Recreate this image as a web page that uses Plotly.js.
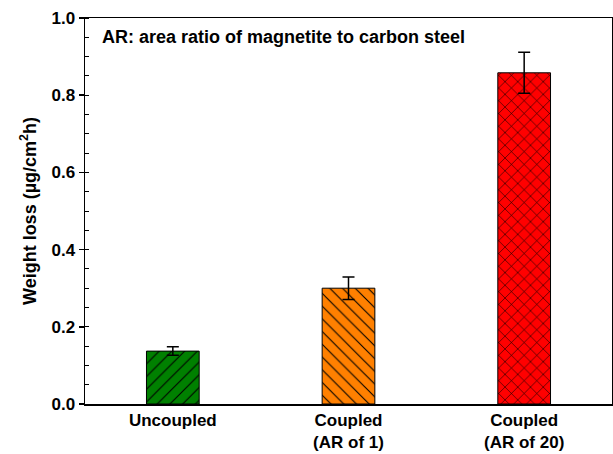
<!DOCTYPE html>
<html>
<head>
<meta charset="utf-8">
<script src="https://cdn.plot.ly/plotly-3.0.1.min.js"></script>
<style>html,body{margin:0;padding:0;background:#fff;}#chart{width:613px;height:454px;}</style>
</head>
<body>
<div id="chart"></div>
<script>
const categories = ["Uncoupled", "Coupled<br>(AR of 1)", "Coupled<br>(AR of 20)"];
const weightLoss = [0.137, 0.300, 0.858];
const errors = [0.011, 0.029, 0.053];
const barColors = ["#008000", "#FF8000", "#FF0000"];
const patterns = ["/", "\\", "x"];
const yTicks = [0.0, 0.2, 0.4, 0.6, 0.8, 1.0];

const fam = "Liberation Sans, Arial, sans-serif";
const boldFont = (s) => ({family: fam, size: s, color: "#000", weight: "bold"});

const traces = categories.map((c, i) => ({
  type: "bar",
  x: [c],
  y: [weightLoss[i]],
  width: 0.3,
  marker: {
    color: barColors[i],
    line: {color: "#000", width: 1},
    pattern: {shape: patterns[i], fgcolor: "#000000", fgopacity: 1, size: 9, solidity: 0.12, fillmode: "overlay"}
  },
  error_y: {type: "data", array: [errors[i]], visible: true, color: "#000", thickness: 1.5, width: 6},
  hoverinfo: "none"
}));

const layout = {
  width: 613, height: 454,
  margin: {l: 85, r: 1, t: 18, b: 50},
  paper_bgcolor: "#fff", plot_bgcolor: "#fff",
  font: {family: fam, size: 18, color: "#000"},
  showlegend: false,
  barmode: "overlay",
  xaxis: {
    type: "category",
    categoryarray: categories, categoryorder: "array",
    range: [-0.5, 2.5],
    showline: true, linecolor: "#000", linewidth: 1.5, mirror: true,
    ticks: "", showgrid: false, zeroline: false,
    tickfont: boldFont(17)
  },
  yaxis: {
    range: [0, 1.0],
    tickvals: yTicks,
    ticktext: yTicks.map(v => v.toFixed(1)),
    showline: true, linecolor: "#000", linewidth: 1.5, mirror: true,
    ticks: "outside", ticklen: 5, tickwidth: 1.5, tickcolor: "#000",
    minor: {dtick: 0.05, ticks: "inside", ticklen: 4, tickwidth: 1, tickcolor: "#000", showgrid: false},
    showgrid: false, zeroline: false,
    tickfont: boldFont(17),
    title: {text: "Weight loss (µg/cm<sup>2</sup>h)", font: boldFont(18), standoff: 10}
  },
  annotations: [{
    xref: "paper", yref: "paper",
    x: 0.028, y: 0.951, xanchor: "left", yanchor: "middle",
    text: "AR: area ratio of magnetite to carbon steel",
    showarrow: false,
    font: boldFont(18)
  }]
};

Plotly.newPlot("chart", traces, layout, {displayModeBar: false, staticPlot: true});
</script>
</body>
</html>
